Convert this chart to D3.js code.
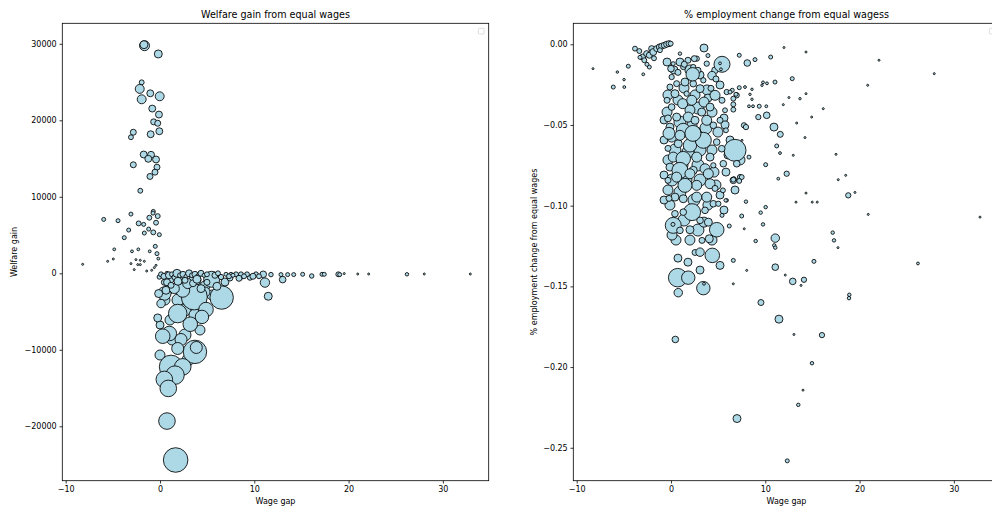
<!DOCTYPE html>
<html><head><meta charset="utf-8">
<script src="https://cdn.jsdelivr.net/npm/d3@7"></script>
<style>
body{margin:0;background:#fff}
svg{display:block}
text{font-family:"DejaVu Sans",sans-serif;fill:#000}
</style>
</head><body>
<svg id="chart" width="992" height="509"></svg>
<script>
// ---------- tick values ----------
const xTicks = [-10, 0, 10, 20, 30];
const welfareTicks = [-20000, -10000, 0, 10000, 20000, 30000];
const empTicks = [-0.25, -0.20, -0.15, -0.10, -0.05, 0.00];

// ---------- left panel: welfare gain ----------
// background bubbles of the negative-welfare blob
const blobGap = [1.06, 2.12, 3.71, 4.77, 5.83, 0.85, 2.97, 4.24, 5.51, 0.53,
  1.91, 2.65, 1.06, 3.71, 0.00, 2.65, 1.27, 4.24, 2.97, 0.00,
  4.77, 6.89, 7.42, 8.48];
const blobWelfare = [-614, -876, -876, -1660, -1137, -2183, -2183, -3228, -2836, -3490,
  -3490, -4797, -6104, -5450, -6757, -8064, -8717, -7411, -11332, -10679,
  -2444, -1137, -614, -484];
const blobWeight = [25, 36, 36, 25, 16, 25, 36, 36, 25, 25,
  36, 36, 25, 36, 16, 36, 25, 25, 36, 25,
  25, 16, 9, 9];

// negative-welfare bubbles and zero row
const lowGap = [3.64, 6.54, 2.41, 0.46, 1.88, 4.88, 4.45, 3.21, -0.24, 0.11,
  0.99, 0.29, 2.23, 1.88, 3.71, 3.85, 1.17, 2.41, 1.59, 0.46,
  0.88, 0.74, 1.66, 5.48, -0.14, 0.64, 1.52, 2.94, 4.35, -0.07,
  0.46, 6.47, 9.54, 11.13, 11.48, 13.01, 10.95, 11.77, 16.09, 15.13,
  17.18, 17.42, 18.91, 19.06, 19.54, 20.97, 22.13, 26.19, 28.03, 32.91,
  14.18, 13.54, 12.83, 8.06, 8.59, 9.23, 10.18, 7.53, 7.00];
const lowWelfare = [-3093, -3171, -2219, -2649, -5259, -4737, -5703, -6656, -5833, -3954,
  -7869, -8222, -8652, -9827, -10270, -9696, -12228, -12228, -13311, -13872,
  -15047, -19314, -24404, -783, -2649, -2219, -1997, -1344, -1997, -483,
  -1174, -483, -561, -1214, -3002, -822, -130, -170, -352, -130,
  -130, -130, -130, -170, -39, -91, -91, -130, -91, -91,
  -170, -170, -170, -130, -130, -130, -130, -130, -130];
const lowWeight = [169, 137, 49, 45, 86, 53, 45, 53, 16, 18,
  53, 53, 36, 36, 137, 36, 137, 69, 86, 69,
  69, 69, 151, 64, 16, 16, 25, 25, 16, 5,
  9, 7, 7, 22, 16, 11, 11, 5, 5, 4,
  4, 4, 6, 4, 1, 1, 1, 3, 1, 1,
  4, 4, 4, 6, 6, 6, 6, 4, 4];

const rowGap = [0.11, 0.42, 0.74, 0.95, 1.27, 1.59, 1.80, 2.12, 2.44, 2.76,
  3.08, 3.39, 3.71, 4.03, 4.35, 4.67, 4.98, 5.83, 6.15, 7.32,
  7.74, 8.38, 8.91, 9.86, 10.50, 0.74, 1.91, 3.50, 3.92, 2.65,
  1.17, 6.04, 4.98];
const rowWelfare = [-130, -392, 0, -261, -130, -522, 0, -261, -130, -392,
  0, -261, -130, -392, 0, -261, -130, -261, 0, -392,
  -261, -653, -392, -392, -392, -1174, -1044, -1305, -783, -914,
  -1566, -1697, -1174];
const rowWeight = [6, 9, 4, 12, 6, 9, 16, 6, 9, 4,
  12, 6, 9, 6, 9, 4, 6, 9, 6, 6,
  4, 9, 6, 9, 6, 12, 16, 12, 16, 9,
  9, 16, 9];

// positive-welfare points (negative wage gap side)
const highGap = [-1.64, -1.70, -0.18, -1.94, -2.15, -1.94, -1.03, -0.03, -0.82, -0.11,
  -0.67, -0.24, -2.83, -3.08, -0.99, -0.07, -1.73, -0.95, -1.24, -0.42,
  -0.32, -0.53, -1.06, -2.83, -2.09];
const highWelfare = [29754, 29885, 28671, 24965, 24103, 22746, 23529, 23138, 21533, 20750,
  19797, 19614, 18440, 17787, 18179, 18570, 15530, 15490, 14968, 14877,
  13872, 13220, 12659, 14185, 10792];
const highWeight = [25, 16, 16, 6, 20, 20, 12, 20, 12, 12,
  9, 9, 9, 6, 12, 12, 12, 12, 12, 12,
  9, 9, 9, 9, 6];

const midGap = [-0.71, -0.74, -0.24, -3.08, -1.13, -0.42, -2.26, -1.73, -1.20, -0.71,
  -0.07, -1.66, -3.32, -3.79, -4.45, -5.97, -4.85, -2.97, -2.30, -1.09,
  -0.50, -0.32, -0.18, -5.55, -4.95, -2.55, -2.09, -1.66, -2.36, -2.09,
  -0.60, -0.42, -0.88, -2.73, -1.41, -8.20, -3.08];
const midWelfare = [8091, 7869, 7478, 7739, 7269, 6616, 6525, 6395, 5781, 5351,
  5050, 5259, 5651, 4659, 6877, 7047, 3132, 2871, 3132, 2871,
  3524, 2571, 1918, 1566, 1866, 1788, 1697, 1566, 1135, 1135,
  744, 1044, 392, 483, 300, 1175, 1266];
const midWeight = [4, 4, 6, 4, 6, 6, 6, 4, 4, 6,
  4, 4, 4, 4, 4, 4, 2, 2, 2, 2,
  4, 4, 2, 1, 1, 1, 1, 1, 1, 1,
  1, 1, 1, 1, 1, 1, 1];

// ---------- right panel: % employment change ----------
// background bubbles of the dense column
const fillGap = [-0.42, 0.95, 2.01, 3.08, 0.32, 1.38, 2.55, 3.82, 5.20, -0.32,
  0.74, 2.86, 4.35, 5.62, -0.42, 0.95, 2.23, 3.71, 4.98, 6.26,
  0.42, 1.80, 3.08, 4.35, -0.32, 1.17, 2.86, 4.56, 5.83, 0.11,
  1.59, 3.08, 4.77, -0.32, 0.95, 2.44, 3.92, 5.62, -0.11, 1.38,
  2.86, 4.35, 0.53, 2.01, 3.50, 5.20, 6.79, 7.32, 6.04, 5.73,
  0.11, 0.74, 1.80, 3.08, -0.74, -0.74, -0.74, -0.74, 2.01, 3.92];
const fillEmp = [-0.0110, -0.0110, -0.0159, -0.0190, -0.0159, -0.0271, -0.0314, -0.0283, -0.0252, -0.0314,
  -0.0345, -0.0395, -0.0420, -0.0457, -0.0420, -0.0482, -0.0500, -0.0519, -0.0544, -0.0593,
  -0.0655, -0.0668, -0.0655, -0.0655, -0.0717, -0.0748, -0.0748, -0.0792, -0.0792, -0.0841,
  -0.0841, -0.0841, -0.0872, -0.0903, -0.0916, -0.0965, -0.0996, -0.1027, -0.0996, -0.1089,
  -0.1151, -0.1213, -0.1213, -0.1213, -0.1102, -0.0934, -0.0903, -0.0717, -0.0686, -0.0500,
  -0.1182, -0.1325, -0.1350, -0.1399, -0.0593, -0.0810, -0.0965, -0.0469, -0.0407, -0.0333];
const fillWeight = [16, 16, 25, 16, 16, 25, 25, 25, 16, 25,
  25, 36, 25, 16, 25, 36, 25, 36, 25, 16,
  36, 36, 36, 25, 25, 36, 36, 25, 16, 36,
  36, 36, 25, 25, 36, 36, 25, 16, 25, 36,
  36, 25, 25, 25, 25, 16, 16, 25, 16, 16,
  25, 16, 16, 16, 16, 16, 16, 16, 25, 16];

const coreGap = [1.30, 0.24, 2.73, 0.07, 0.60, -0.11, 0.42, 1.66, 1.24, 2.20,
  3.50, 4.14, 4.67, 3.08, 3.43, 4.24, 0.07, 0.60, 1.83, 3.26,
  3.79, 4.49, -0.11, 1.30, 2.73, 0.07, 0.77, 2.01, 3.43, 6.79,
  4.85, 5.38, 0.24, 1.30, 2.73, 4.14, -0.11, 0.95, 2.36, 3.61,
  4.49, 5.55, 6.97, 7.32, 2.01, 2.36, 2.36, 1.48, 3.79, 4.67,
  5.91, 6.97, 7.74, 2.24, 0.24, 0.21, 0.95, 2.01, 3.08, 3.96,
  4.85, 4.06, 0.42, 1.30, 3.61, 4.49, 3.79, 2.73, 1.30, 0.42,
  2.73, 4.14, 1.48, 0.60, 2.01, 3.96, 5.02, 5.91, 6.61, 5.41,
  0.74, 1.80, 2.86, -0.32, -0.42, -0.32, -0.32, -0.21, -0.21, 0.95,
  2.55, 5.20, 5.83, 5.73, 5.41, 2.33, 4.67, 5.51, 3.29, 2.55];
const coreEmp = [-0.0141, -0.0120, -0.0089, -0.0203, -0.0244, -0.0265, -0.0306, -0.0306, -0.0368, -0.0347,
  -0.0358, -0.0389, -0.0316, -0.0275, -0.0223, -0.0273, -0.0389, -0.0451, -0.0451, -0.0420,
  -0.0471, -0.0502, -0.0513, -0.0533, -0.0533, -0.0575, -0.0616, -0.0626, -0.0595, -0.0657,
  -0.0606, -0.0647, -0.0699, -0.0709, -0.0699, -0.0699, -0.0761, -0.0781, -0.0781, -0.0771,
  -0.0750, -0.0740, -0.0740, -0.0823, -0.0203, -0.0141, -0.0244, -0.0234, -0.0120, -0.0161,
  -0.0296, -0.0316, -0.0502, -0.1040, -0.1122, -0.1116, -0.1153, -0.1149, -0.1091, -0.1102,
  -0.1149, -0.1205, -0.1050, -0.1040, -0.1029, -0.0988, -0.0947, -0.0947, -0.0957, -0.0947,
  -0.0874, -0.0864, -0.0874, -0.0823, -0.0802, -0.0802, -0.0988, -0.0967, -0.0843, -0.1060,
  -0.0174, -0.0099, -0.0161, -0.0459, -0.0347, -0.0645, -0.0843, -0.0955, -0.0552, -0.0564,
  -0.0471, -0.0471, -0.0533, -0.0409, -0.0347, -0.0552, -0.0893, -0.0905, -0.1215, -0.1290];
const coreWeight = [7, 4, 7, 7, 9, 9, 16, 7, 25, 25,
  25, 16, 25, 16, 7, 9, 11, 16, 25, 16,
  25, 11, 16, 49, 11, 25, 16, 45, 64, 121,
  11, 11, 25, 53, 25, 16, 16, 64, 16, 25,
  7, 11, 11, 7, 7, 7, 11, 16, 7, 11,
  7, 7, 7, 72, 64, 4, 11, 16, 11, 16,
  53, 16, 11, 11, 11, 11, 25, 25, 16, 16,
  25, 25, 49, 25, 25, 25, 7, 3, 11, 4,
  9, 9, 9, 12, 9, 9, 9, 9, 36, 25,
  16, 9, 6, 6, 9, 64, 9, 6, 9, 9];

const outerGap = [-3.82, -3.36, -3.00, -2.83, -2.58, -2.30, -2.05, -1.88, -1.52, -1.24,
  -0.99, -0.71, -0.46, -0.21, -0.03, -2.30, -2.94, -4.53, -5.69, -4.98,
  -6.12, -4.95, -8.27, -1.80, -2.55, -1.17, -3.29, 3.50, 5.41, 5.20,
  5.30, 2.30, 4.35, 0.95, 0.00, 1.41, 2.47, 3.92, 4.77, 7.24,
  8.09, 8.91, 10.57, 11.98, 14.32, 22.06, 27.92, 12.86, 20.86, 32.77,
  11.03, 9.76, 10.18, 9.65, 7.24, 6.50, 6.26, 6.89, 6.61, 6.61,
  6.61, 8.59, 8.38, 8.59, 8.70, 8.27, 9.36, 10.11, 10.15, 9.26,
  10.92, 11.59, 11.21, 11.56, 10.04, 12.27, 11.38, 12.51, 11.91, 13.33,
  14.92, 16.15, 14.32, 13.68, 12.97, 14.21, 17.50, 17.74, 18.53, 18.80,
  19.51, 14.32, 13.26, 14.98, 15.51, 20.92, 17.15, 17.29, 17.71, 11.06,
  10.95, 11.06, 7.95, 10.04, 9.51, 7.50, 7.77, 9.76, 8.98, 6.18,
  5.80, 6.68, 7.50, 7.24, 6.61, 8.27, 7.95, 7.53, 3.08, 4.38,
  5.20, 6.61, 8.03, 0.71, 1.83, 3.43, 3.50, 0.77, 6.61, 11.06,
  12.12, 12.91, 14.10, 13.79, 15.16, 26.19, 9.54, 11.45, 0.46, 13.04,
  16.01, 14.95, 14.00, 13.50, 7.00, 12.33, 18.91, 18.88, 7.85];
const outerEmp = [-0.0027, -0.0042, -0.0079, -0.0099, -0.0058, -0.0068, -0.0027, -0.0048, -0.0027, -0.0017,
  -0.0012, -0.0006, 0.0000, 0.0004, 0.0004, -0.0141, -0.0186, -0.0136, -0.0172, -0.0219,
  -0.0265, -0.0265, -0.0151, -0.0087, -0.0124, -0.0037, -0.0081, -0.0023, -0.0124, -0.0118,
  -0.0155, -0.0186, -0.0194, -0.0058, -0.0151, -0.0124, -0.0089, -0.0070, -0.0215, -0.0068,
  -0.0116, -0.0095, -0.0079, -0.0020, -0.0048, -0.0099, -0.0182, -0.0213, -0.0254, -0.1071,
  -0.0234, -0.0236, -0.0242, -0.0254, -0.0269, -0.0285, -0.0296, -0.0310, -0.0337, -0.0372,
  -0.0405, -0.0279, -0.0310, -0.0341, -0.0384, -0.0384, -0.0384, -0.0384, -0.0440, -0.0451,
  -0.0513, -0.0558, -0.0630, -0.0674, -0.0746, -0.0802, -0.0833, -0.0330, -0.0374, -0.0488,
  -0.0451, -0.0399, -0.0306, -0.0337, -0.0688, -0.0578, -0.0682, -0.0839, -0.0812, -0.0936,
  -0.0918, -0.0922, -0.0978, -0.0978, -0.0978, -0.1054, -0.1167, -0.1215, -0.1260, -0.1201,
  -0.1246, -0.1260, -0.0975, -0.1009, -0.1043, -0.1064, -0.1143, -0.1116, -0.1219, -0.1126,
  -0.0967, -0.0833, -0.0823, -0.0847, -0.0839, -0.0699, -0.0513, -0.0595, -0.1288, -0.1308,
  -0.1370, -0.1339, -0.1401, -0.1446, -0.1446, -0.1511, -0.1484, -0.1539, -0.1484, -0.1381,
  -0.1430, -0.1469, -0.1459, -0.1494, -0.1345, -0.1358, -0.1600, -0.1703, -0.1829, -0.1798,
  -0.1802, -0.1976, -0.2143, -0.2234, -0.2319, -0.2581, -0.1552, -0.1573, -0.0265];
const outerWeight = [6, 6, 9, 6, 9, 9, 9, 12, 9, 9,
  9, 9, 9, 9, 6, 4, 2, 4, 1.5, 1.5,
  4, 2, 1, 6, 4, 6, 4, 16, 64, 2,
  2, 45, 18, 3, 11, 9, 9, 4, 9, 4,
  11, 4, 4, 1, 1, 1, 1, 4, 1, 1,
  4, 2, 2, 1.5, 4, 4, 4, 4, 6, 6,
  6, 1.5, 1.5, 1.5, 2, 2, 4, 2, 11, 7,
  16, 9, 4, 2, 4, 7, 2, 1, 1, 1,
  1, 1, 1, 1.5, 1, 1, 1, 1, 1, 7,
  1, 1, 1, 1, 1, 1, 3, 3, 1, 18,
  3, 3, 3, 3, 3, 4, 1, 3, 3, 4,
  3, 4, 6, 6, 6, 4, 7, 1, 18, 53,
  16, 4, 1, 86, 45, 45, 2, 18, 1, 11,
  1, 11, 7, 1, 4, 2, 9, 16, 11, 1,
  7, 3, 1, 3, 16, 4, 3, 3, 2];

// ---------- build point tables ----------
function zipPts(g, v, w) { return g.map((d, i) => ({x: d, y: v[i], w: w[i]})); }
const leftPoints = [].concat(
  zipPts(blobGap, blobWelfare, blobWeight),
  zipPts(lowGap, lowWelfare, lowWeight),
  zipPts(rowGap, rowWelfare, rowWeight),
  zipPts(highGap, highWelfare, highWeight),
  zipPts(midGap, midWelfare, midWeight));
const rightPoints = [].concat(
  zipPts(fillGap, fillEmp, fillWeight),
  zipPts(coreGap, coreEmp, coreWeight),
  zipPts(outerGap, outerEmp, outerWeight));

const svg = d3.select("#chart");
const rScale = d3.scaleSqrt().domain([0, 200]).range([0, Math.sqrt(200)]);

const panels = [
  {id: "l", left: 62.3, top: 23.3, width: 426.4, height: 457.4,
   xDomain: [-10.36, 34.86], yDomain: [-27110, 32680], yTicks: welfareTicks,
   fmt: d3.format("d"), title: "Welfare gain from equal wages",
   ylabel: "Welfare gain", ylabelX: 17, data: leftPoints},
  {id: "r", left: 573.3, top: 23.3, width: 426.4, height: 457.4,
   xDomain: [-10.36, 34.86], yDomain: [-0.2704, 0.0130], yTicks: empTicks,
   fmt: d3.format(".2f"), title: "% employment change from equal wagess",
   ylabel: "% employment change from equal wages", ylabelX: 537, data: rightPoints}
];

panels.forEach(p => {
  const x = d3.scaleLinear().domain(p.xDomain).range([p.left, p.left + p.width]);
  const y = d3.scaleLinear().domain(p.yDomain).range([p.top + p.height, p.top]);

  svg.append("clipPath").attr("id", "clip-" + p.id)
    .append("rect").attr("x", p.left).attr("y", p.top)
    .attr("width", p.width).attr("height", p.height);

  svg.append("g").attr("clip-path", "url(#clip-" + p.id + ")")
    .selectAll("circle").data(p.data).enter().append("circle")
    .attr("cx", d => x(d.x)).attr("cy", d => y(d.y))
    .attr("r", d => rScale(d.w))
    .attr("fill", "#add8e6").attr("stroke", "#000").attr("stroke-width", 0.85);

  // frame
  svg.append("rect").attr("x", p.left).attr("y", p.top)
    .attr("width", p.width).attr("height", p.height)
    .attr("fill", "none").attr("stroke", "#000").attr("stroke-width", 0.8);

  const xa = svg.append("g").attr("transform", `translate(0,${p.top + p.height})`)
    .call(d3.axisBottom(x).tickValues(xTicks).tickFormat(d3.format("d"))
      .tickSize(2.8).tickPadding(2.8));
  const ya = svg.append("g").attr("transform", `translate(${p.left},0)`)
    .call(d3.axisLeft(y).tickValues(p.yTicks).tickFormat(p.fmt)
      .tickSize(2.8).tickPadding(2.8));
  [xa, ya].forEach(a => {
    a.select(".domain").remove();
    a.selectAll(".tick line").attr("stroke", "#000").attr("stroke-width", 0.8);
    a.selectAll(".tick text").attr("font-size", 8).attr("fill", "#000")
      .attr("font-family", '"DejaVu Sans", sans-serif');
  });

  // empty legend box
  svg.append("rect").attr("x", p.left + p.width - 10.3).attr("y", p.top + 5)
    .attr("width", 5.7).attr("height", 5.7).attr("rx", 1)
    .attr("fill", "#fff").attr("stroke", "#d6d6d6").attr("stroke-width", 0.8);

  svg.append("text").attr("x", p.left + p.width / 2).attr("y", 18)
    .attr("text-anchor", "middle").attr("font-size", 9.6).text(p.title);
  svg.append("text").attr("x", p.left + p.width / 2).attr("y", 504)
    .attr("text-anchor", "middle").attr("font-size", 8).text("Wage gap");
  svg.append("text")
    .attr("transform", `translate(${p.ylabelX},${p.top + p.height / 2}) rotate(-90)`)
    .attr("text-anchor", "middle").attr("font-size", 8).text(p.ylabel);
});
</script>
</body></html>
